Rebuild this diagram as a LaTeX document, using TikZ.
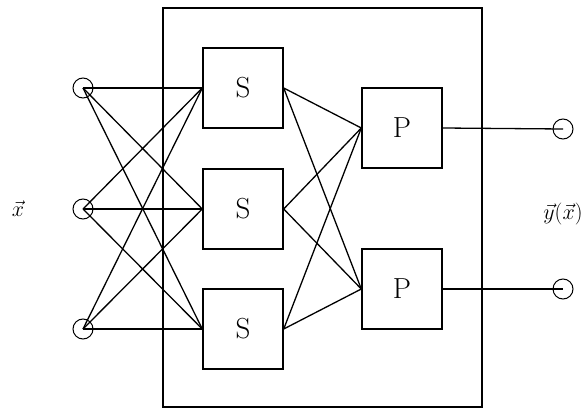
\documentclass[tikz,border=0pt]{standalone}
\usepackage{fix-cm}
\begin{document}
\begin{tikzpicture}[x=1pt,y=-1pt,
  unitbox/.style={draw,line width=1.4pt,minimum width=80pt,minimum height=80pt,inner sep=0pt,font=\fontsize{29}{34}\selectfont},
  port/.style={draw,circle,line width=1pt,minimum size=20pt,inner sep=0pt},
  wire/.style={line width=1.3pt},
  lbl/.style={font=\fontsize{22}{26}\selectfont}]
\useasboundingbox (0,0) rectangle (586,409);
% enclosing frame
\node[draw,line width=1.3pt,minimum width=319pt,minimum height=399pt,inner sep=0pt] (frame) at (322.5,207.5) {};
% input ports
\node[port] (i1) at (83,88) {};
\node[port] (i2) at (83,209) {};
\node[port] (i3) at (83,329) {};
% S units
\node[unitbox] (s1) at (243,88) {S};
\node[unitbox] (s2) at (243,209) {S};
\node[unitbox] (s3) at (243,329) {S};
% P units
\node[unitbox] (p1) at (402,128) {P};
\node[unitbox] (p2) at (402,289) {P};
% output ports
\node[port] (o1) at (563,129) {};
\node[port] (o2) at (563,289) {};
% labels
\node[lbl] (lx) at (18,209) {$\vec{x}$};
\node[lbl] (ly) at (563,214) {$\vec{y}(\vec{x})$};
% full connections input -> S
\foreach \i in {1,2,3}
  \foreach \s in {1,2,3}
    \draw[wire] (i\i.center) -- (s\s.west);
% full connections S -> P
\foreach \s in {1,2,3}
  \foreach \p in {1,2}
    \draw[wire] (s\s.east) -- (p\p.west);
% outputs
\draw[wire] (p1.east) -- (o1.center);
\draw[wire] (p2.east) -- (o2.center);
\end{tikzpicture}
\end{document}
